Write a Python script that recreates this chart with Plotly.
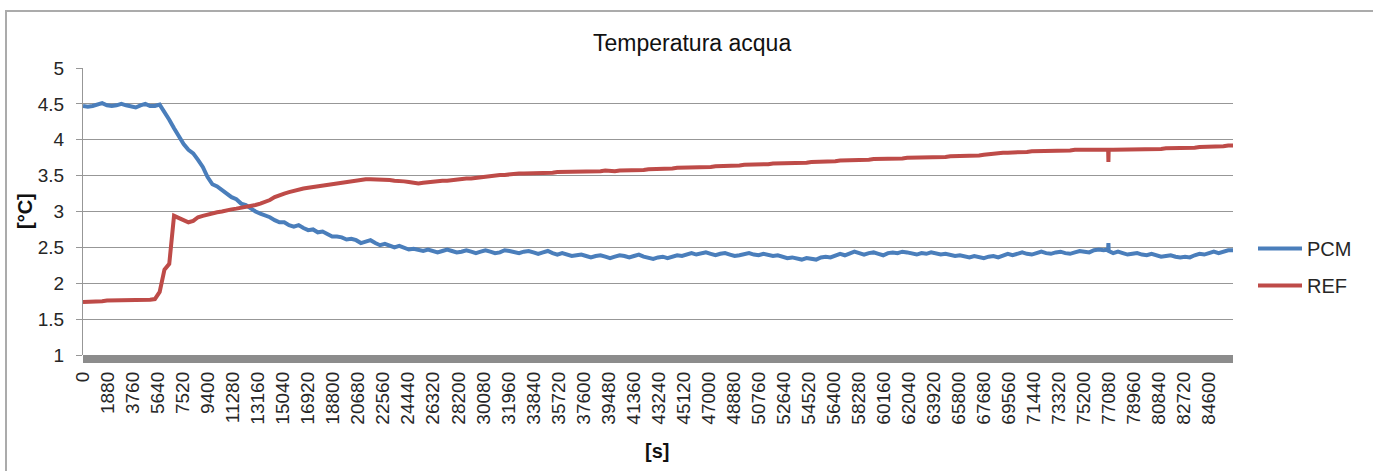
import plotly.graph_objects as go

# Sampling times [s]; the short burst around 77040 s holds a single-sample glitch
t_s = list(range(0, 76681, 360)) + [77020, 77040, 77060] + list(range(77400, 86401, 360))

# Water temperature [°C], PCM tank
pcm = [
    4.47, 4.46, 4.47, 4.49, 4.51, 4.48, 4.47, 4.48, 4.50, 4.48,
    4.46, 4.45, 4.48, 4.50, 4.47, 4.47, 4.49, 4.39, 4.28, 4.16,
    4.05, 3.94, 3.86, 3.81, 3.72, 3.62, 3.48, 3.38, 3.35, 3.30,
    3.24, 3.20, 3.17, 3.11, 3.09, 3.04, 3.00, 2.97, 2.95, 2.92,
    2.88, 2.85, 2.85, 2.81, 2.79, 2.81, 2.77, 2.74, 2.75, 2.71,
    2.72, 2.68, 2.65, 2.65, 2.64, 2.61, 2.62, 2.60, 2.56, 2.58,
    2.60, 2.56, 2.53, 2.55, 2.52, 2.50, 2.52, 2.49, 2.47, 2.48,
    2.46, 2.45, 2.47, 2.45, 2.43, 2.45, 2.47, 2.45, 2.43, 2.44,
    2.46, 2.44, 2.42, 2.44, 2.46, 2.44, 2.42, 2.43, 2.46, 2.45,
    2.43, 2.42, 2.44, 2.45, 2.43, 2.41, 2.43, 2.45, 2.42, 2.40,
    2.42, 2.40, 2.38, 2.39, 2.40, 2.38, 2.36, 2.38, 2.39, 2.37,
    2.35, 2.37, 2.39, 2.38, 2.36, 2.38, 2.40, 2.37, 2.35, 2.34,
    2.36, 2.37, 2.35, 2.37, 2.39, 2.38, 2.40, 2.42, 2.40, 2.41,
    2.43, 2.41, 2.39, 2.41, 2.42, 2.40, 2.38, 2.39, 2.41, 2.42,
    2.40, 2.39, 2.41, 2.40, 2.38, 2.39, 2.37, 2.35, 2.36, 2.35,
    2.33, 2.35, 2.34, 2.33, 2.36, 2.37, 2.36, 2.38, 2.41, 2.39,
    2.42, 2.44, 2.42, 2.40, 2.42, 2.43, 2.41, 2.39, 2.42, 2.43,
    2.42, 2.44, 2.43, 2.41, 2.40, 2.42, 2.41, 2.43, 2.42, 2.40,
    2.41, 2.39, 2.38, 2.39, 2.37, 2.36, 2.38, 2.36, 2.35, 2.37,
    2.38, 2.36, 2.39, 2.41, 2.39, 2.41, 2.43, 2.41, 2.40, 2.42,
    2.44, 2.42, 2.41, 2.43, 2.44, 2.42, 2.41, 2.43, 2.45, 2.44,
    2.43, 2.46, 2.47, 2.46,
    2.47, 2.56, 2.45,
    2.42, 2.44, 2.42, 2.40, 2.41, 2.42, 2.40, 2.39, 2.41, 2.39,
    2.37, 2.38, 2.39, 2.37, 2.36, 2.37, 2.36, 2.39, 2.41, 2.40,
    2.42, 2.44, 2.42, 2.44, 2.46, 2.46,
]

# Water temperature [°C], reference tank
ref = [
    1.74, 1.74, 1.75, 1.75, 1.75, 1.76, 1.76, 1.77, 1.76, 1.77,
    1.77, 1.77, 1.77, 1.77, 1.77, 1.78, 1.88, 2.19, 2.27, 2.94,
    2.91, 2.88, 2.85, 2.87, 2.92, 2.94, 2.96, 2.98, 2.99, 3.00,
    3.02, 3.03, 3.04, 3.05, 3.06, 3.07, 3.09, 3.11, 3.13, 3.16,
    3.20, 3.23, 3.25, 3.27, 3.29, 3.31, 3.32, 3.33, 3.34, 3.35,
    3.36, 3.38, 3.39, 3.40, 3.41, 3.42, 3.43, 3.44, 3.44, 3.45,
    3.45, 3.45, 3.45, 3.44, 3.44, 3.43, 3.43, 3.42, 3.41, 3.40,
    3.39, 3.40, 3.41, 3.42, 3.42, 3.43, 3.43, 3.44, 3.44, 3.45,
    3.46, 3.46, 3.47, 3.47, 3.48, 3.49, 3.50, 3.51, 3.51, 3.52,
    3.52, 3.53, 3.53, 3.53, 3.54, 3.54, 3.54, 3.54, 3.54, 3.55,
    3.55, 3.55, 3.55, 3.55, 3.56, 3.55, 3.56, 3.56, 3.56, 3.57,
    3.56, 3.56, 3.57, 3.57, 3.57, 3.58, 3.58, 3.58, 3.59, 3.59,
    3.59, 3.60, 3.60, 3.60, 3.61, 3.61, 3.61, 3.61, 3.62, 3.62,
    3.62, 3.62, 3.63, 3.63, 3.63, 3.64, 3.64, 3.64, 3.65, 3.65,
    3.65, 3.66, 3.66, 3.66, 3.67, 3.67, 3.67, 3.67, 3.68, 3.68,
    3.68, 3.68, 3.69, 3.69, 3.69, 3.70, 3.70, 3.70, 3.71, 3.71,
    3.71, 3.72, 3.72, 3.72, 3.72, 3.73, 3.73, 3.73, 3.74, 3.74,
    3.74, 3.74, 3.75, 3.75, 3.75, 3.75, 3.75, 3.75, 3.76, 3.76,
    3.76, 3.77, 3.77, 3.77, 3.77, 3.78, 3.78, 3.78, 3.79, 3.80,
    3.81, 3.82, 3.82, 3.82, 3.82, 3.83, 3.83, 3.83, 3.84, 3.84,
    3.84, 3.84, 3.85, 3.85, 3.85, 3.85, 3.85, 3.86, 3.86, 3.86,
    3.86, 3.86, 3.86, 3.86,
    3.86, 3.69, 3.86,
    3.86, 3.86, 3.86, 3.86, 3.86, 3.86, 3.86, 3.87, 3.87, 3.87,
    3.87, 3.88, 3.88, 3.88, 3.88, 3.89, 3.89, 3.89, 3.90, 3.90,
    3.90, 3.91, 3.91, 3.91, 3.92, 3.92,
]

# Axis labels
x_ticks = list(range(0, 84601, 1880))
y_ticks = [1, 1.5, 2, 2.5, 3, 3.5, 4, 4.5, 5]
y_tick_text = ["1", "1.5", "2", "2.5", "3", "3.5", "4", "4.5", "5"]

FONT = "Liberation Sans, Arial, sans-serif"
W, H = 1373, 471
L, R, T, B = 83, 140, 68, 116          # plot-area margins in px
plot_w, plot_h = W - L - R, H - T - B


def px_x(px):
    return (px - L) / plot_w


def px_y(py):
    return (H - B - py) / plot_h


fig = go.Figure()
fig.add_trace(go.Scatter(x=t_s, y=pcm, name="PCM", mode="lines",
                         line=dict(color="#4A7EBB", width=4), legendgroup="a"))
fig.add_trace(go.Scatter(x=t_s, y=ref, name="REF", mode="lines",
                         line=dict(color="#BE4B48", width=4), legendgroup="b"))

fig.update_layout(
    width=W, height=H,
    margin=dict(l=L, r=R, t=T, b=B, autoexpand=False),
    paper_bgcolor="white", plot_bgcolor="white",
    font=dict(family=FONT, color="#262626"),
    showlegend=True,
    legend=dict(x=px_x(1253), y=px_y(229), xanchor="left", yanchor="top",
                font=dict(size=20, family=FONT, color="#262626"),
                bgcolor="rgba(0,0,0,0)", traceorder="grouped", tracegroupgap=8,
                itemwidth=44),
    xaxis=dict(range=[0, 86400], tickmode="array", tickvals=x_ticks,
               ticktext=[str(v) for v in x_ticks], tickangle=-90,
               tickfont=dict(size=19, family=FONT, color="#262626"),
               showgrid=False, zeroline=False, showline=False, ticks="",
               ticklabelstandoff=12),
    yaxis=dict(range=[1, 5], tickmode="array", tickvals=y_ticks, ticktext=y_tick_text,
               tickfont=dict(size=19, family=FONT, color="#262626"),
               showgrid=True, gridcolor="#979797", gridwidth=1.3,
               zeroline=False, showline=True, linecolor="#979797", linewidth=1.3,
               ticks="outside", ticklen=6, tickcolor="#979797", tickwidth=1.3,
               ticklabelstandoff=8),
    shapes=[
        # outer chart frame
        dict(type="rect", xref="paper", yref="paper",
             x0=px_x(6), x1=px_x(1400), y0=px_y(500), y1=px_y(11),
             line=dict(color="#ABABAB", width=2), fillcolor="rgba(0,0,0,0)", layer="below"),
        # floor band under the category axis
        dict(type="rect", xref="paper", yref="paper",
             x0=0, x1=1, y0=px_y(363), y1=0,
             line=dict(width=0), fillcolor="#8C8C8C", layer="above"),
    ],
    annotations=[
        dict(text="Temperatura acqua", xref="paper", yref="paper",
             x=px_x(692), y=px_y(43), xanchor="center", yanchor="middle",
             showarrow=False, font=dict(size=23, family=FONT, color="#111111")),
        dict(text="<b>[°C]</b>", xref="paper", yref="paper", textangle=-90,
             x=px_x(25), y=px_y(211), xanchor="center", yanchor="middle",
             showarrow=False, font=dict(size=20, family=FONT, color="#111111")),
        dict(text="<b>[s]</b>", xref="paper", yref="paper",
             x=px_x(657), y=px_y(451), xanchor="center", yanchor="middle",
             showarrow=False, font=dict(size=20, family=FONT, color="#111111")),
    ],
)

fig.write_html("out.html")
